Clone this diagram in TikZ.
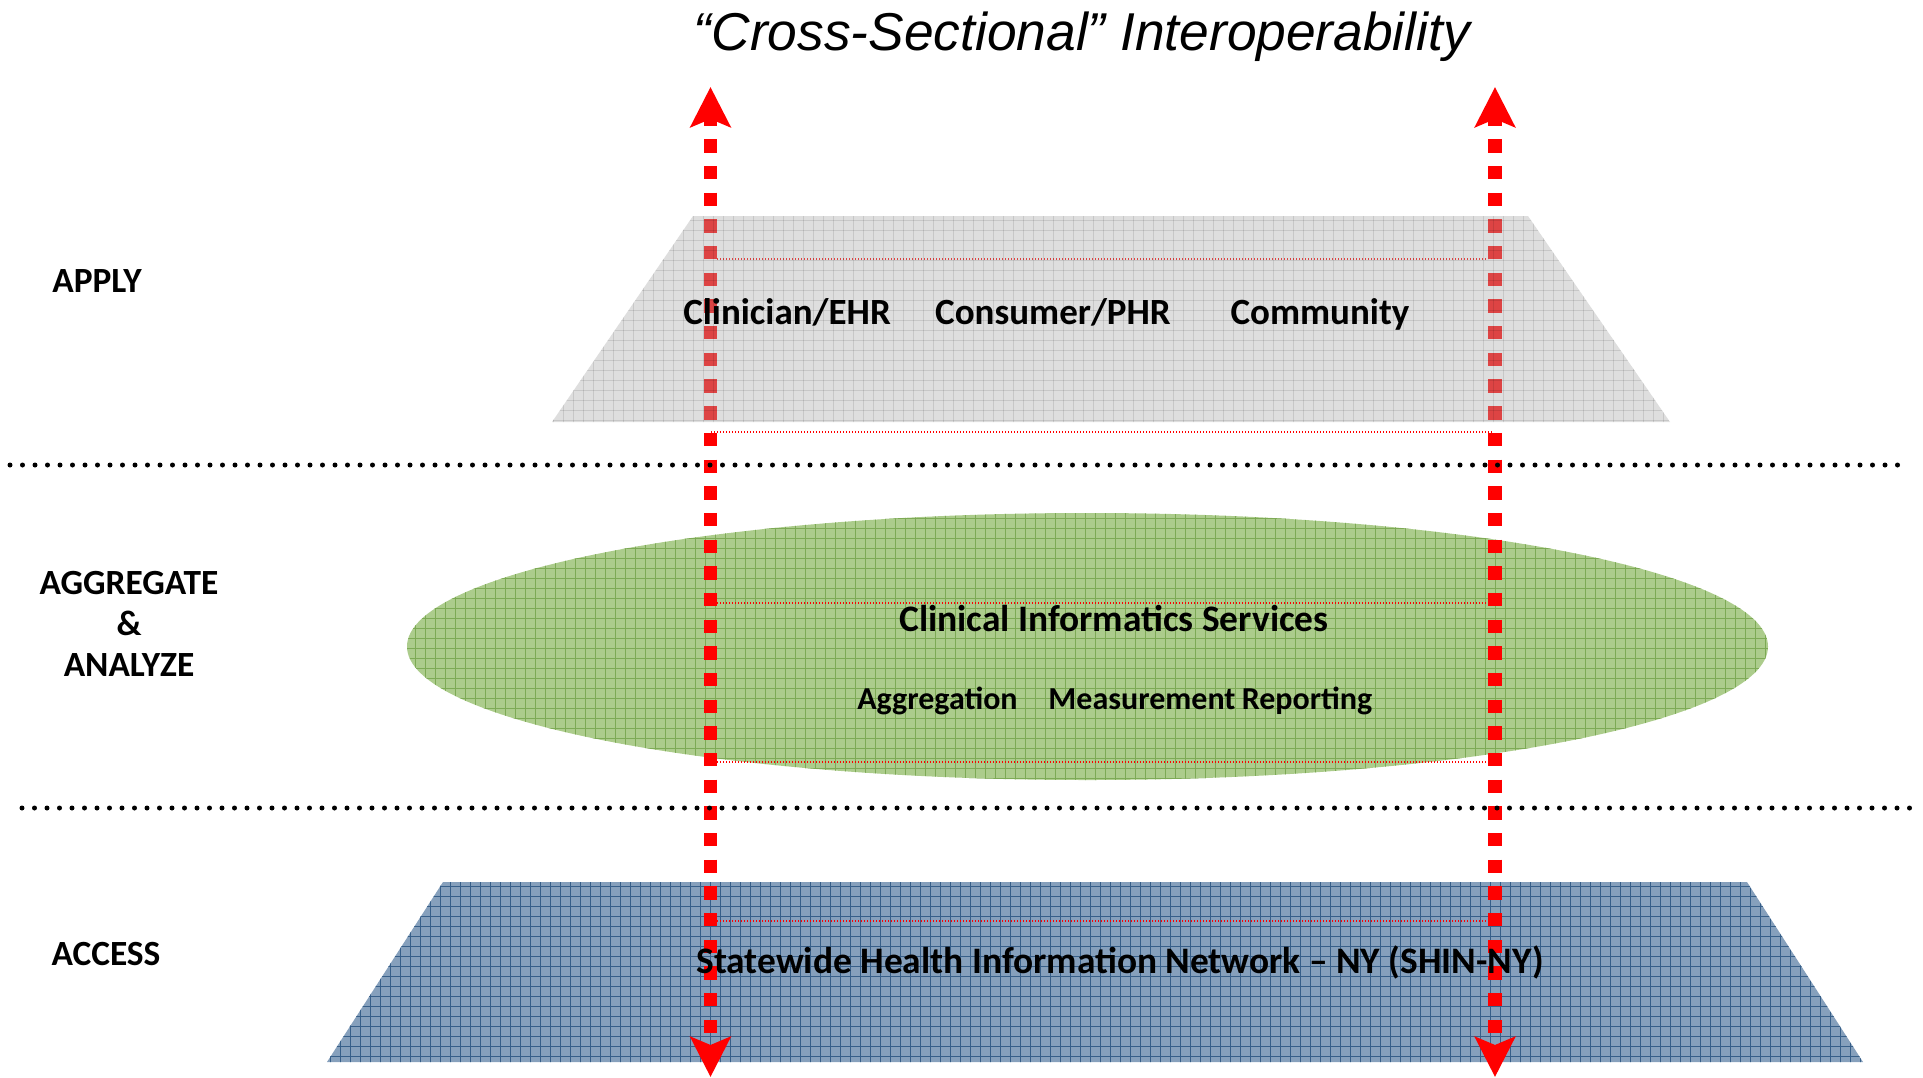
\documentclass[tikz,border=0pt]{standalone}
\usepackage{fontspec}
\setmainfont{Carlito}
\newfontfamily\titlefont{Liberation Sans}
\usetikzlibrary{arrows.meta}

\definecolor{grayfill}{RGB}{172,172,172}
\definecolor{greenfill}{RGB}{172,204,140}
\definecolor{greenline}{RGB}{125,170,85}
\definecolor{bluefill}{RGB}{134,160,188}
\definecolor{blueline}{RGB}{55,95,137}
\definecolor{arrowred}{RGB}{255,0,0}

\tikzset{
  bigarrow/.style={draw=arrowred, line width=6.67pt,
    dash pattern=on 6.67pt off 6.67pt, dash phase=2pt,
    {Stealth[length=20pt,width=20pt,inset=4pt]}-{Stealth[length=20pt,width=20pt,inset=4pt]}},
  thinred/.style={draw=arrowred, line width=0.7pt, dash pattern=on 0.6pt off 0.9pt},
  sepline/.style={draw=black, line width=2.5pt, dash pattern=on 0pt off 6.25pt, line cap=round},
  lbl/.style={font=\fontsize{17.7pt}{20.5pt}\selectfont\bfseries, anchor=base, inner sep=0pt},
  toprow/.style={font=\fontsize{18.5pt}{22pt}\selectfont\bfseries, anchor=base, inner sep=0pt},
  cis/.style={font=\fontsize{18.7pt}{22pt}\selectfont\bfseries, anchor=base, inner sep=0pt},
  subrow/.style={font=\fontsize{16pt}{20pt}\selectfont\bfseries, anchor=base, inner sep=0pt},
  gridg/.style={draw=greenline, line width=0.5pt},
  gridb/.style={draw=blueline, line width=0.5pt},
  gridy/.style={draw=black, draw opacity=0.1, line width=0.5pt},
}

\begin{document}
\begin{tikzpicture}[x=0.5pt, y=-0.5pt]
\useasboundingbox (0,0) rectangle (1923,1077);

% ---- AGGREGATE layer: green ellipse
\begin{scope}
  \path[clip] (1087.5,646.5) ellipse [x radius=340.25pt, y radius=66.75pt];
  \fill[greenfill] (400,505) rectangle (1775,785);
  \foreach \gx in {405,415,...,1775} \draw[gridg] (\gx,505) -- (\gx,785);
  \foreach \gy in {508,518,...,785} \draw[gridg] (400,\gy) -- (1775,\gy);
\end{scope}

% ---- ACCESS layer: blue trapezoid
\begin{scope}
  \path[clip] (443,882) -- (1747,882) -- (1863,1062) -- (327,1062) -- cycle;
  \fill[bluefill] (320,875) rectangle (1870,1070);
  \foreach \gx in {330,340,...,1870} \draw[gridb] (\gx,875) -- (\gx,1070);
  \foreach \gy in {886,896,...,1065} \draw[gridb] (320,\gy) -- (1870,\gy);
\end{scope}

% ---- coordinates on the two vertical arrows
\coordinate (Ltop) at (710.5,87);
\coordinate (Lbot) at (710.5,1077);
\coordinate (Rtop) at (1495,87);
\coordinate (Rbot) at (1495,1077);

\coordinate (L1) at (717,259);  \coordinate (R1) at (1488,259);
\coordinate (L2) at (711,432);  \coordinate (R2) at (1492,432);
\coordinate (L3) at (717,603);  \coordinate (R3) at (1488,603);
\coordinate (L4) at (717,762);  \coordinate (R4) at (1488,762);
\coordinate (L5) at (717,921);  \coordinate (R5) at (1488,921);

\draw[thinred] (L1) -- (R1);
\draw[thinred] (L2) -- (R2);
\draw[thinred] (L3) -- (R3);
\draw[thinred] (L4) -- (R4);
\draw[thinred] (L5) -- (R5);

\draw[bigarrow] (Ltop) -- (Lbot);
\draw[bigarrow] (Rtop) -- (Rbot);

% ---- APPLY layer: translucent gray trapezoid
\begin{scope}
  \path[clip] (693,216) -- (1528,216) -- (1670,422) -- (552,422) -- cycle;
  \fill[grayfill, fill opacity=0.4] (545,210) rectangle (1675,425);
  \foreach \gx in {553,563,...,1675} \draw[gridy] (\gx,210) -- (\gx,425);
  \foreach \gy in {220,230,...,425} \draw[gridy] (545,\gy) -- (1675,\gy);
\end{scope}

% ---- separators
\coordinate (S1a) at (10,465);  \coordinate (S1b) at (1900,465);
\coordinate (S2a) at (22,808);  \coordinate (S2b) at (1912,808);
\draw[sepline] (S1a) -- (S1b);
\draw[sepline] (S2a) -- (S2b);

% ---- texts
\node[font=\titlefont\itshape\fontsize{26.65pt}{32pt}\selectfont, anchor=base, inner sep=0pt]
  (title) at (1082,50) {“Cross-Sectional” Interoperability};

\node[lbl] (apply) at (97,292) {APPLY};
\node[lbl, align=center, anchor=center] (aggr) at (129,624) {AGGREGATE\\\&\\ANALYZE};
\node[lbl] (access) at (106,965) {ACCESS};

\node[toprow] (clin) at (787,324) {Clinician/EHR};
\node[toprow] (cons) at (1053,324) {Consumer/PHR};
\node[toprow] (comm) at (1320,324) {Community};

\node[cis] (cisn) at (1114,631) {Clinical Informatics Services};
\node[subrow] (aggn) at (937.5,709) {Aggregation};
\node[subrow] (meas) at (1142,709) {Measurement};
\node[subrow] (repo) at (1307,709) {Reporting};

\node[cis] (shin) at (1120,973) {Statewide Health Information Network – NY (SHIN-NY)};
\end{tikzpicture}
\end{document}
